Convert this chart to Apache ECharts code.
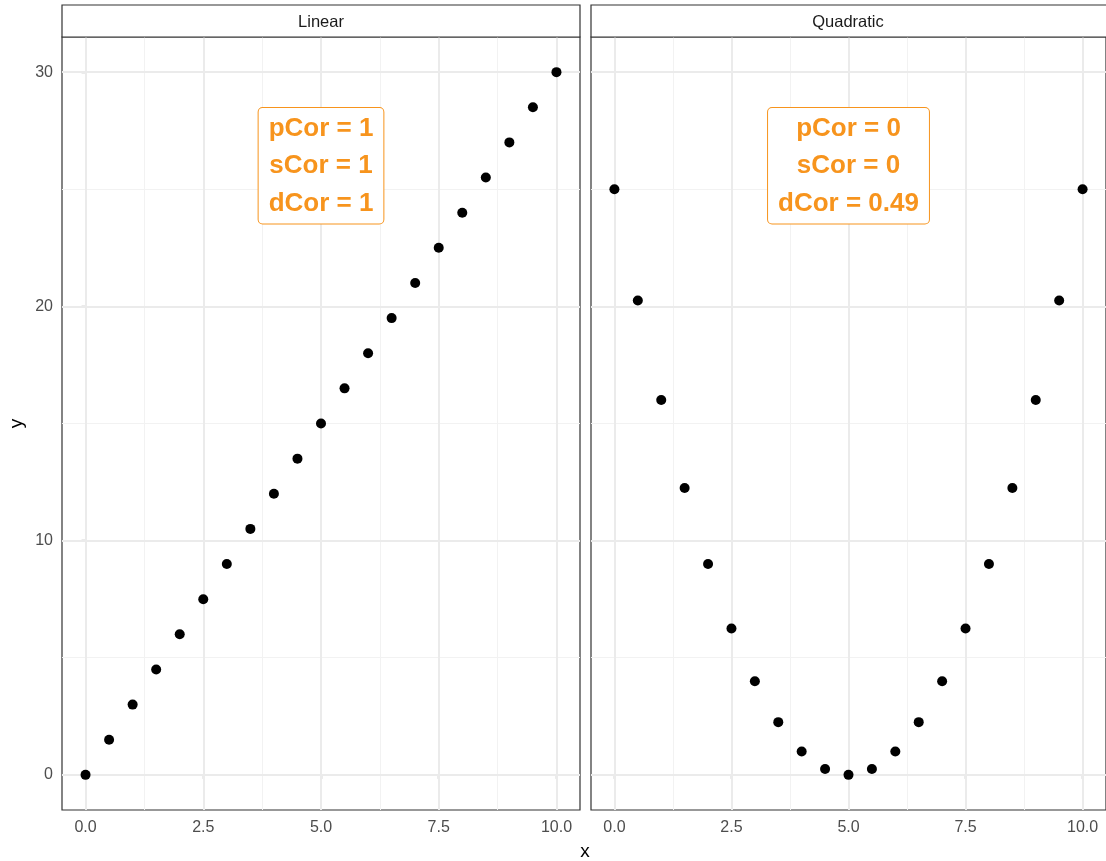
<!DOCTYPE html>
<html>
<head>
<meta charset="utf-8">
<title>Linear vs Quadratic</title>
<script src="https://cdn.jsdelivr.net/npm/echarts@6/dist/echarts.min.js"></script>
<style>
  html, body { margin: 0; padding: 0; background: #fff; }
  #chart { width: 1106px; height: 861px; }
</style>
</head>
<body>
<div id="chart"></div>
<script>
// Sampled x positions shared by both panels
const xValues = [0, 0.5, 1, 1.5, 2, 2.5, 3, 3.5, 4, 4.5, 5, 5.5, 6, 6.5, 7, 7.5, 8, 8.5, 9, 9.5, 10];
// Linear panel: y values
const linearY = [0, 1.5, 3, 4.5, 6, 7.5, 9, 10.5, 12, 13.5, 15, 16.5, 18, 19.5, 21, 22.5, 24, 25.5, 27, 28.5, 30];
// Quadratic panel: y values
const quadY = [25, 20.25, 16, 12.25, 9, 6.25, 4, 2.25, 1, 0.25, 0, 0.25, 1, 2.25, 4, 6.25, 9, 12.25, 16, 20.25, 25];

const panelTitles = ['Linear', 'Quadratic'];
const statLabels = [
  ['pCor = 1', 'sCor = 1', 'dCor = 1'],
  ['pCor = 0', 'sCor = 0', 'dCor = 0.49']
];
const labelAnchor = [5, 26];

const xTicks = [0, 2.5, 5, 7.5, 10];
const xMinor = [1.25, 3.75, 6.25, 8.75];
const yTicks = [0, 10, 20, 30];
const yMinor = [5, 15, 25];

const xRange = [-0.5, 10.5];
const yRange = [-1.5, 31.5];

const FONT = '"Liberation Sans", Arial, Helvetica, sans-serif';
const ORANGE = '#F7941D';
const GRID_MAJOR = '#EBEBEB';
const GRID_MINOR = '#F2F2F2';

const panels = [
  { left: 62, width: 518 },
  { left: 591, width: 518 }
];
const TOP = 37, HEIGHT = 773;

const grids = panels.map(p => ({
  left: p.left, top: TOP, width: p.width, height: HEIGHT,
  show: true, borderColor: '#333333', borderWidth: 1.2, backgroundColor: 'transparent'
}));

const xAxes = panels.map((p, i) => ({
  type: 'value', gridIndex: i, min: xRange[0], max: xRange[1],
  axisLine: { show: false },
  axisTick: { show: true, length: 4, customValues: xTicks, lineStyle: { color: '#333333', width: 1.2 } },
  axisLabel: { customValues: xTicks, formatter: v => v.toFixed(1), color: '#4D4D4D', fontSize: 16, fontFamily: FONT, margin: 10 },
  splitLine: { show: false }
}));

const yAxes = panels.map((p, i) => ({
  type: 'value', gridIndex: i, min: yRange[0], max: yRange[1],
  axisLine: { show: false },
  axisTick: { show: i === 0, length: 4, customValues: yTicks, lineStyle: { color: '#333333', width: 1.2 } },
  axisLabel: { show: i === 0, customValues: yTicks, color: '#4D4D4D', fontSize: 16, fontFamily: FONT, margin: 9 },
  splitLine: { show: false },
  name: i === 0 ? 'y' : '', nameLocation: 'middle', nameGap: 36, nameRotate: 90,
  nameTextStyle: { color: '#000', fontSize: 19, fontFamily: FONT }
}));

function gridLineSeries(i) {
  const line = (w, c) => ({ width: w, color: c, type: 'solid' });
  const data = [];
  xMinor.forEach(v => data.push({ xAxis: v, lineStyle: line(1, GRID_MINOR) }));
  yMinor.forEach(v => data.push({ yAxis: v, lineStyle: line(1, GRID_MINOR) }));
  xTicks.forEach(v => data.push({ xAxis: v, lineStyle: line(2, GRID_MAJOR) }));
  yTicks.forEach(v => data.push({ yAxis: v, lineStyle: line(2, GRID_MAJOR) }));
  return {
    type: 'scatter', xAxisIndex: i, yAxisIndex: i, data: [], z: 1, silent: true,
    markLine: { z: 1, silent: true, symbol: 'none', animation: false, label: { show: false }, emphasis: { disabled: true }, data }
  };
}

function pointSeries(i, ys) {
  return {
    type: 'scatter', xAxisIndex: i, yAxisIndex: i, z: 3, symbolSize: 10,
    itemStyle: { color: '#000', opacity: 1 },
    data: xValues.map((x, k) => [x, ys[k]])
  };
}

function statSeries(i) {
  return {
    type: 'scatter', xAxisIndex: i, yAxisIndex: i, z: 6, symbolSize: 0, silent: true,
    itemStyle: { opacity: 1 },
    data: [labelAnchor],
    label: {
      show: true, position: 'inside',
      formatter: () => statLabels[i].join('\n'),
      color: ORANGE, opacity: 1, fontWeight: 'bold', fontSize: 26, fontFamily: FONT,
      lineHeight: 37.5, align: 'center',
      backgroundColor: '#fff', borderColor: ORANGE, borderWidth: 1, borderRadius: 4,
      padding: [3, 10, 0, 10]
    }
  };
}

const strips = panels.flatMap((p, i) => [
  { type: 'rect', shape: { x: p.left, y: 5, width: p.width, height: TOP - 5 },
    style: { fill: '#fff', stroke: '#333333', lineWidth: 1.2 }, z: 10 },
  { type: 'text', x: p.left + p.width / 2 - (i === 1 ? 2 : 0), y: 22,
    style: { text: panelTitles[i], fill: '#1A1A1A', font: '16.5px ' + FONT, textAlign: 'center', textVerticalAlign: 'middle' }, z: 11 }
]);

const chart = echarts.init(document.getElementById('chart'), null, { renderer: 'canvas' });
chart.setOption({
  animation: false,
  backgroundColor: '#fff',
  grid: grids,
  xAxis: xAxes,
  yAxis: yAxes,
  series: [
    gridLineSeries(0), gridLineSeries(1),
    pointSeries(0, linearY), pointSeries(1, quadY),
    statSeries(0), statSeries(1)
  ],
  graphic: strips.concat([
    { type: 'text', x: 585, y: 852,
      style: { text: 'x', fill: '#000', font: '19px ' + FONT, textAlign: 'center', textVerticalAlign: 'middle' } }
  ])
});
</script>
</body>
</html>
